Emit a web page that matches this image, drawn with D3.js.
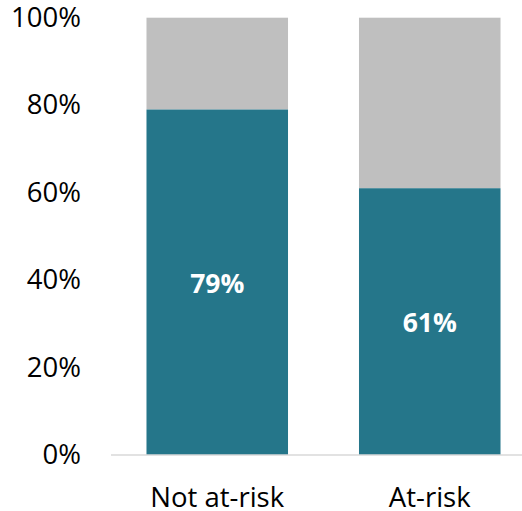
<!DOCTYPE html>
<html><head><meta charset="utf-8">
<script src="https://cdn.jsdelivr.net/npm/d3@7"></script>
<style>body{margin:0;background:#fff}svg{display:block}</style>
</head><body>
<script>
const categories = ["Not at-risk", "At-risk"];
const values = [0.79, 0.61];
const labels = ["79%", "61%"];
const ticks = [0, 0.2, 0.4, 0.6, 0.8, 1.0];

const W = 522, H = 511;
const svg = d3.select("body").append("svg").attr("width", W).attr("height", H);
const font = "'Open Sans', sans-serif";

const y = d3.scaleLinear().domain([0, 1]).range([455, 17.7]);
const x = d3.scaleBand().domain(categories).range([111, 536]).paddingInner(0.334).paddingOuter(0.167);

// gray remainder
svg.selectAll("rect.rest").data(categories).enter().append("rect")
  .attr("x", d => x(d)).attr("width", x.bandwidth())
  .attr("y", y(1)).attr("height", (d, i) => y(values[i]) - y(1))
  .attr("fill", "#BFBFBF");
svg.selectAll("rect.val").data(categories).enter().append("rect")
  .attr("x", d => x(d)).attr("width", x.bandwidth())
  .attr("y", (d, i) => y(values[i])).attr("height", (d, i) => y(0) - y(values[i]))
  .attr("fill", "#25768A");

// baseline
svg.append("line").attr("x1", 111).attr("x2", 522).attr("y1", y(0)).attr("y2", y(0))
  .attr("stroke", "#D9D9D9").attr("stroke-width", 1.5);

// y axis
const yAxis = d3.axisLeft(y).tickValues(ticks).tickFormat(d3.format(".0%")).tickSize(0).tickPadding(0);
const ga = svg.append("g").attr("transform", "translate(81,0)").call(yAxis);
ga.select(".domain").remove();
ga.selectAll("text").attr("font-family", font).attr("font-size", 27.5).attr("fill", "#000");

// x axis
const xAxis = d3.axisBottom(x).tickSize(0).tickPadding(0);
const gx = svg.append("g").attr("transform", "translate(0,497)").call(xAxis);
gx.select(".domain").remove();
gx.selectAll("text").attr("font-family", font).attr("font-size", 27.5).attr("fill", "#000").attr("dy", "0.35em");

// value labels
svg.selectAll("text.vl").data(categories).enter().append("text")
  .attr("x", d => x(d) + x.bandwidth() / 2)
  .attr("y", (d, i) => (y(values[i]) + y(0)) / 2 + 1)
  .attr("text-anchor", "middle").attr("dy", "0.35em")
  .attr("font-family", font).attr("font-size", 26.5).attr("font-weight", "bold").attr("fill", "#fff")
  .text((d, i) => labels[i]);
</script>
</body></html>
